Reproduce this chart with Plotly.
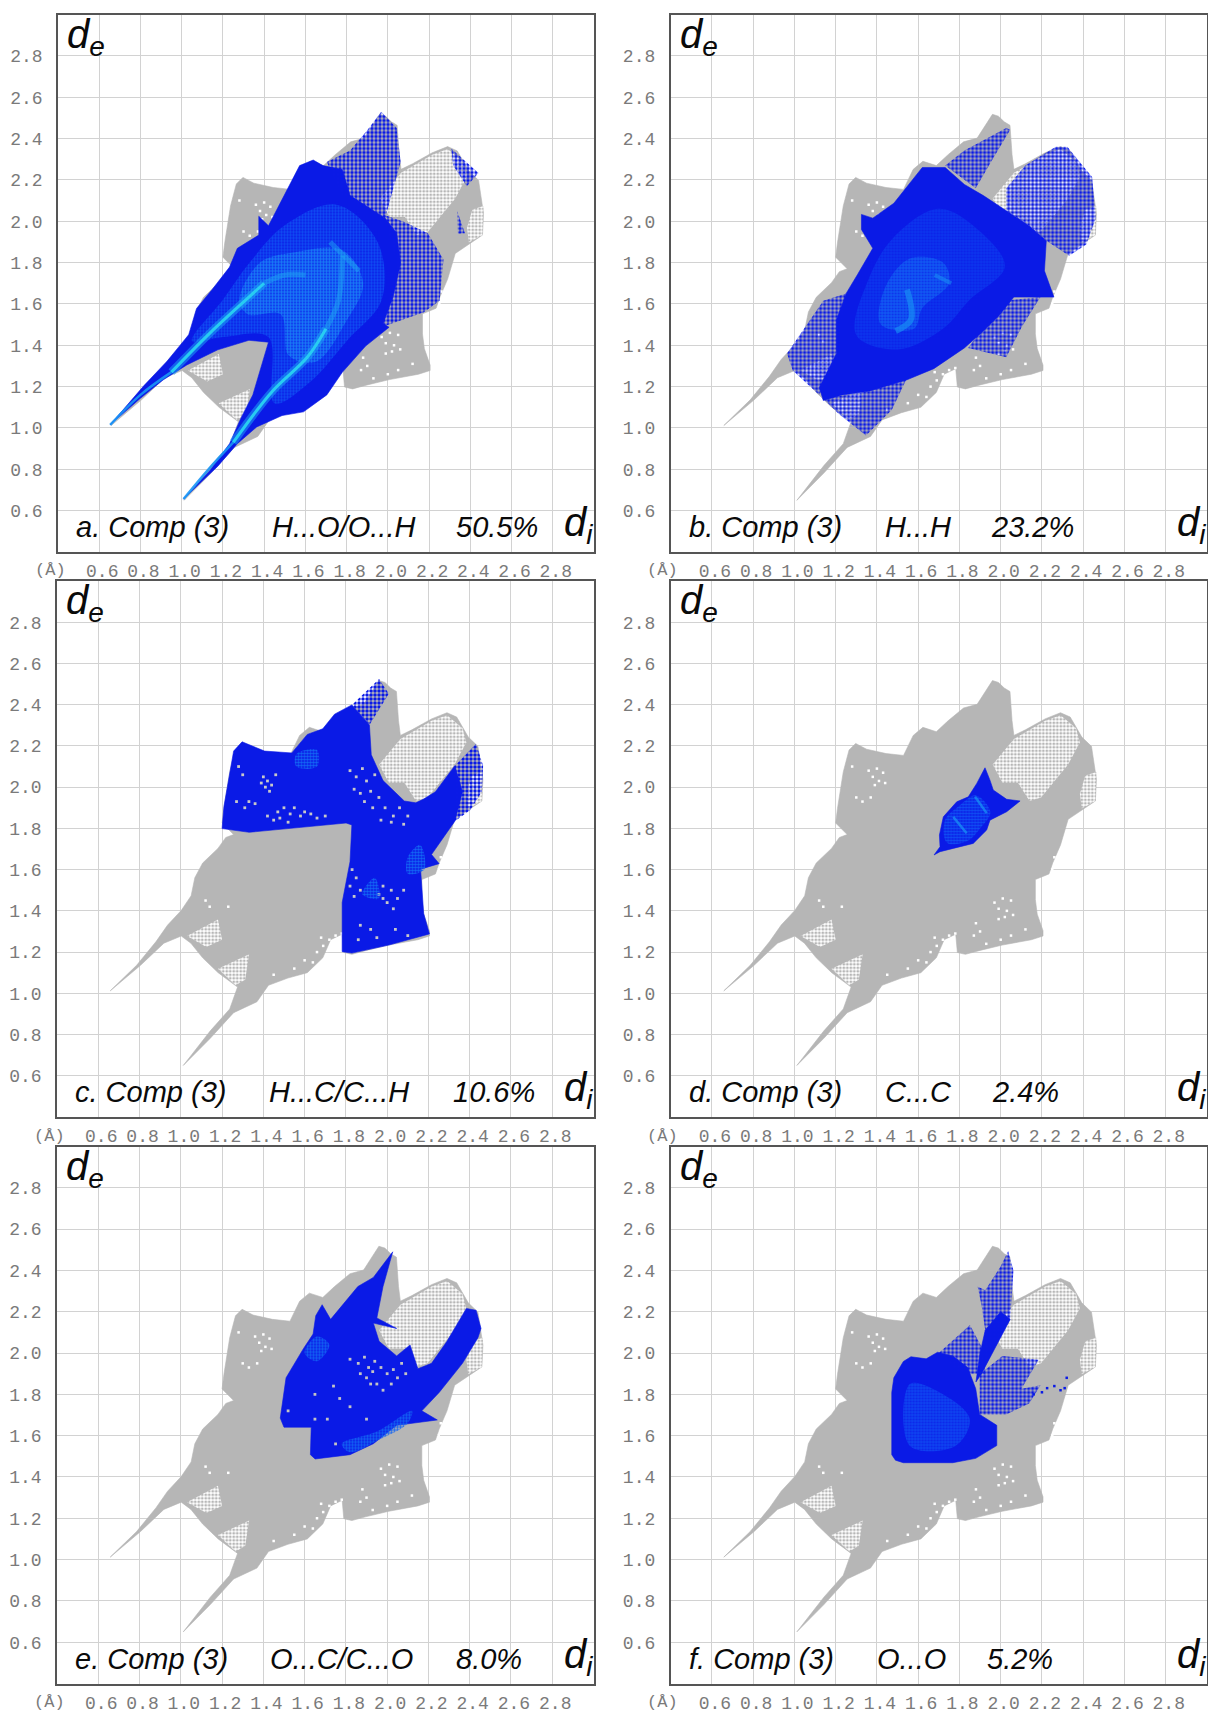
import plotly.graph_objects as go

# ---- axis values ----
TICKS = [0.6, 0.8, 1.0, 1.2, 1.4, 1.6, 1.8, 2.0, 2.2, 2.4, 2.6, 2.8]
TICK_LABELS = ["0.6", "0.8", "1.0", "1.2", "1.4", "1.6", "1.8", "2.0", "2.2", "2.4", "2.6", "2.8"]
AXIS_RANGE = [0.4, 3.0]

# ---- all-contacts grey outline (di, de) ----
GREY = [(0.658,1.012),(0.786,1.136),(0.88,1.251),(0.936,1.331),(1.002,1.402),(1.05,1.473),(1.068,1.561),(1.106,1.632),
        (1.18,1.703),(1.218,1.756),(1.256,1.77),(1.2,1.826),(1.209,1.897),(1.237,2.074),(1.265,2.18),(1.297,2.212),
        (1.35,2.184),(1.444,2.163),(1.529,2.154),(1.576,2.251),(1.623,2.29),(1.688,2.269),(1.745,2.322),(1.82,2.384),
        (1.886,2.402),(1.96,2.517),(1.989,2.508),(2.017,2.481),(2.045,2.464),(2.055,2.322),(2.064,2.251),(2.12,2.278),
        (2.215,2.331),(2.29,2.361),(2.337,2.34),(2.393,2.243),(2.44,2.198),(2.464,2.039),(2.459,1.933),(2.384,1.88),
        (2.327,1.844),(2.29,1.72),(2.252,1.632),(2.234,1.579),(2.168,1.552),(2.168,1.455),(2.177,1.384),(2.205,1.304),
        (2.205,1.278),(2.149,1.26),(2.008,1.234),(1.895,1.207),(1.829,1.189),(1.79,1.198),(1.782,1.287),(1.726,1.26),
        (1.688,1.172),(1.613,1.10),(1.519,1.074),(1.425,1.039),(1.369,0.959),(1.256,0.906),(1.143,0.782),(1.012,0.65),
        (1.143,0.818),(1.237,0.924),(1.275,1.03),(1.181,1.10),(1.106,1.172),(1.049,1.243),(1.002,1.278),(0.918,1.243),(0.805,1.136)]
GREY_SPECK_1 = [(1.961,2.11),(2.064,2.234),(2.215,2.322),(2.29,2.349),(2.365,2.287),(2.384,2.216),(2.327,2.11),(2.196,1.95),(2.14,1.933),(2.083,2.021),(2.008,2.021)]
GREY_SPECK_2 = [(2.41,2.057),(2.464,2.074),(2.459,1.933),(2.393,1.897),(2.384,1.968)]
GREY_SPECK_3 = [(1.03,1.278),(1.18,1.358),(1.2,1.26),(1.124,1.225)]
GREY_SPECK_4 = [(1.18,1.119),(1.331,1.189),(1.312,1.066),(1.265,1.039)]
GREY_SPECKS = [GREY_SPECK_1, GREY_SPECK_2, GREY_SPECK_3, GREY_SPECK_4]
WHITE_DOTS = [(1.30,1.95),(1.33,1.93),(1.37,1.95),(1.28,2.1),(1.23,1.42),(1.12,1.45),(1.14,1.42),(1.88,1.34),(1.9,1.3),(1.87,1.28),
              (2.12,1.31),(2.0,1.26),(2.05,1.28),(1.93,1.24),(1.6,1.16),(1.55,1.12),(1.45,1.09),(2.26,1.66),(2.25,1.6),
              (1.36,2.08),(1.38,2.05),(1.40,2.09),(1.41,2.03),(1.43,2.07),(1.39,2.01),(1.44,2.02),(1.97,1.44),(1.99,1.41),
              (2.01,1.46),(2.03,1.40),(2.05,1.45),(2.02,1.37),(1.99,1.36),(2.06,1.38),(1.66,1.20),(1.69,1.23),(1.72,1.26),
              (1.75,1.28),(1.68,1.27),(1.73,1.22),(1.64,1.15),(1.78,1.29),(1.71,1.19)]

# ---- a. H...O/O...H ----
A_DENSE = [(0.653,1.015),(0.817,1.205),(0.93,1.324),(1.034,1.451),(1.072,1.578),(1.147,1.669),(1.232,1.778),(1.27,1.869),(1.374,1.933),
           (1.374,2.024),(1.421,1.978),(1.496,2.124),(1.572,2.269),(1.638,2.296),(1.685,2.269),(1.779,2.25),(1.817,2.124),(1.987,2.015),
           (2.043,1.942),(2.062,1.796),(2.025,1.633),(1.977,1.505),(2.006,1.487),(1.892,1.396),(1.779,1.269),(1.704,1.16),(1.591,1.078),
           (1.487,1.06),(1.364,1.005),(1.27,0.924),(1.175,0.815),(1.009,0.656),(1.138,0.796),(1.232,0.924),(1.289,1.051),(1.345,1.16),
           (1.421,1.415),(1.326,1.424),(1.175,1.378),(1.025,1.305),(0.911,1.233),(0.798,1.142)]
A_SPECK_1 = [(1.704,2.287),(1.817,2.342),(1.902,2.442),(1.968,2.529),(2.043,2.451),(2.062,2.287),(1.987,2.015),(1.779,2.124)]
A_SPECK_2 = [(1.977,2.033),(2.081,1.996),(2.194,1.942),(2.27,1.815),(2.251,1.615),(2.175,1.56),(1.968,1.487),(2.043,1.796)]
A_SPECK_3 = [(2.308,2.351),(2.44,2.233),(2.383,2.169),(2.317,2.269)]
A_SPECK_4 = [(2.336,2.051),(2.374,1.942),(2.34,1.94)]
A_MID = [(1.05,1.42),(1.20,1.62),(1.33,1.80),(1.50,1.98),(1.75,2.08),(1.95,1.90),(1.97,1.62),(1.80,1.42),(1.62,1.22),(1.45,1.12),(1.42,1.44),(1.20,1.44)]
A_LIGHT = [(1.28,1.62),(1.38,1.80),(1.55,1.85),(1.78,1.86),(1.88,1.70),(1.80,1.52),(1.65,1.32),(1.52,1.35),(1.48,1.55),(1.32,1.55)]
A_TIP_1 = [(0.653,1.015),(0.80,1.16),(0.95,1.27)]
A_TIP_2 = [(1.009,0.656),(1.13,0.80),(1.25,0.93)]
A_LINE_1 = [(0.95,1.27),(1.138,1.46),(1.326,1.633),(1.40,1.70)]
A_LINE_2 = [(1.25,0.93),(1.44,1.178),(1.609,1.342),(1.70,1.48)]
A_GLOW_1 = [(1.70,1.48),(1.76,1.615),(1.779,1.833)]
A_GLOW_2 = [(1.40,1.70),(1.50,1.74),(1.60,1.74)]
A_GLOW_3 = [(1.72,1.90),(1.78,1.84),(1.86,1.76)]

# ---- b. H...H ----
B_DENSE = [(1.325,2.033),(1.38,2.015),(1.482,2.087),(1.62,2.26),(1.731,2.26),(1.824,2.178),(1.916,2.124),(2.027,2.051),(2.138,1.978),
           (2.221,1.905),(2.212,1.76),(2.258,1.633),(2.193,1.633),(2.064,1.633),(1.99,1.542),(1.916,1.469),(1.824,1.387),(1.676,1.287),
           (1.546,1.233),(1.362,1.178),(1.232,1.16),(1.14,1.133),(1.121,1.196),(1.204,1.36),(1.204,1.524),(1.251,1.651),(1.306,1.742),
           (1.38,1.869),(1.325,1.96)]
B_SPECK_1 = [(0.964,1.36),(1.14,1.615),(1.251,1.651),(1.204,1.36),(1.121,1.16),(0.992,1.278)]
B_SPECK_2 = [(1.14,1.142),(1.362,1.178),(1.546,1.242),(1.472,1.087),(1.347,0.964),(1.214,1.069)]
B_SPECK_3 = [(2.008,1.615),(2.193,1.633),(2.101,1.487),(2.027,1.342),(1.842,1.387),(1.916,1.487)]
B_SPECK_4 = [(1.731,2.27),(1.824,2.342),(2.027,2.451),(2.046,2.442),(1.953,2.287),(1.879,2.16)]
B_SPECK_5 = [(2.027,2.16),(2.119,2.269),(2.267,2.36),(2.323,2.36),(2.397,2.269),(2.443,2.215),(2.461,2.015),(2.415,1.887),(2.332,1.833),(2.221,1.905),(2.138,1.978),(2.027,2.051)]
B_MID = [(1.30,1.45),(1.36,1.72),(1.48,1.92),(1.70,2.06),(1.90,1.95),(2.02,1.78),(1.85,1.62),(1.72,1.48),(1.50,1.38)]
B_LIGHT = [(1.42,1.50),(1.44,1.68),(1.56,1.82),(1.72,1.80),(1.75,1.70),(1.62,1.58),(1.58,1.48)]
B_LINE_1 = [(1.546,1.669),(1.565,1.524),(1.491,1.469)]
B_LINE_2 = [(1.68,1.74),(1.76,1.70)]

# ---- c. H...C/C...H ----
C_DENSE = [(1.2,1.799),(1.331,1.781),(1.801,1.826),(1.829,1.817),(1.82,1.638),(1.782,1.44),(1.782,1.202),(1.829,1.195),(2.008,1.234),
           (2.205,1.288),(2.177,1.387),(2.162,1.602),(2.252,1.629),(2.215,1.673),(2.328,1.835),(2.365,1.978),(2.328,2.104),(2.234,1.978),
           (2.177,1.942),(2.139,1.924),(2.083,1.933),(1.98,2.032),(1.923,2.157),(1.914,2.301),(1.829,2.399),(1.745,2.354),(1.688,2.283),
           (1.613,2.256),(1.538,2.166),(1.406,2.175),(1.297,2.22),(1.256,2.175),(1.209,1.906)]
C_SPECK_1 = [(1.829,2.399),(1.961,2.525),(2.008,2.453),(1.914,2.301)]
C_SPECK_2 = [(2.328,2.104),(2.431,2.211),(2.465,2.104),(2.459,1.978),(2.403,1.889),(2.328,1.835)]
C_HOLES = [(1.82,2.08),(1.85,2.05),(1.88,2.09),(1.90,2.03),(1.84,1.99),(1.87,1.97),(1.92,1.98),(1.89,1.93),(1.94,2.06),(1.96,1.95),
           (1.99,1.90),(2.03,1.86),(2.06,1.90),(2.02,1.83),(1.97,1.84),(2.08,1.82),(2.10,1.86),(1.93,1.90),
           (1.42,1.86),(1.45,1.84),(1.47,1.88),(1.50,1.90),(1.53,1.87),(1.55,1.90),(1.58,1.86),(1.60,1.88),(1.63,1.87),(1.66,1.85),
           (1.70,1.86),(1.48,1.85),(1.52,1.83),(1.40,2.05),(1.42,2.03),(1.41,2.00),(1.44,2.01),(1.46,2.06),(1.39,2.02),(1.43,1.98),
           (1.28,2.10),(1.30,2.06),(1.27,1.93),(1.31,1.90),(1.33,1.93),(1.36,1.92),(1.83,1.60),(1.85,1.56),(1.82,1.52),(1.87,1.50),
           (1.84,1.47),(1.96,1.48),(1.98,1.52),(2.02,1.50),(2.05,1.46),(2.0,1.44),(2.03,1.41),(1.98,1.46),(2.08,1.5),(1.87,1.33),
           (1.92,1.31),(1.95,1.27),(2.04,1.31),(2.1,1.28),(1.86,1.26)]
C_LIGHT_1 = [(1.56,2.16),(1.66,2.18),(1.66,2.10),(1.56,2.10)]
C_LIGHT_2 = [(2.10,1.66),(2.16,1.72),(2.18,1.60),(2.10,1.58)]
C_LIGHT_3 = [(1.88,1.48),(1.94,1.56),(1.96,1.46)]

# ---- d. C...C ----
D_DENSE = [(1.677,1.671),(1.706,1.711),(1.703,1.768),(1.722,1.856),(1.787,1.929),(1.843,1.953),(1.884,2.018),(1.924,2.094),(1.948,2.034),
           (1.964,1.986),(2.029,1.941),(2.094,1.933),(2.029,1.881),(1.948,1.84),(1.932,1.792),(1.867,1.727),(1.77,1.703),(1.706,1.687)]
D_MID = [(1.74,1.73),(1.73,1.84),(1.80,1.91),(1.88,1.96),(1.95,1.88),(1.90,1.80),(1.84,1.74)]
D_LINE_1 = [(1.876,1.953),(1.932,1.874)]
D_LINE_2 = [(1.77,1.856),(1.835,1.776)]

# ---- e. O...C/C...O ----
E_DENSE = [(1.482,1.685),(1.5,1.641),(1.632,1.641),(1.628,1.508),(1.651,1.487),(1.82,1.508),(1.933,1.561),(2.046,1.65),(2.243,1.676),
           (2.168,1.72),(2.252,1.809),(2.365,1.95),(2.44,2.074),(2.455,2.119),(2.431,2.207),(2.384,2.216),(2.29,2.057),(2.215,1.95),
           (2.149,1.924),(2.111,2.039),(2.046,1.986),(1.961,2.057),(1.933,2.145),(2.046,2.119),(1.95,2.17),(1.98,2.322),(2.027,2.49),
           (1.933,2.366),(1.858,2.322),(1.726,2.163),(1.685,2.234),(1.654,2.181),(1.641,2.092),(1.594,2.021),(1.51,1.88)]
E_HOLES = [(1.82,1.97),(1.86,1.95),(1.89,1.98),(1.91,1.93),(1.87,1.90),(1.90,1.88),(1.93,1.91),(1.95,1.85),(1.92,1.85),(1.94,1.96),
           (1.97,1.93),(2.0,1.90),(2.03,1.92),(2.05,1.88),(2.02,1.85),(1.98,1.82),(2.07,1.95),(2.09,1.90),(1.74,1.84),(1.65,1.80),
           (1.52,1.72),(1.71,1.68),(1.77,1.78),(1.65,1.68),(1.90,1.68),(1.82,1.74),(1.75,1.56)]
E_MID_1 = [(1.78,1.56),(1.95,1.62),(2.12,1.72),(2.10,1.66),(1.96,1.58),(1.82,1.52)]
E_MID_2 = [(1.60,2.00),(1.66,2.08),(1.72,2.04),(1.66,1.96)]

# ---- f. O...O ----
F_DENSE = [(1.472,1.508),(1.49,1.481),(1.528,1.469),(1.768,1.469),(1.879,1.49),(1.981,1.552),(1.981,1.65),(1.898,1.703),(1.879,1.827),
           (1.84,1.93),(1.768,1.986),(1.694,2.004),(1.639,1.972),(1.565,1.982),(1.528,1.959),(1.482,1.88),(1.472,1.809)]
F_SPECK_1 = [(1.888,2.322),(1.925,2.304),(2.0,2.42),(2.036,2.494),(2.062,2.40),(2.046,2.163),(1.953,1.99),(1.907,1.90),(1.907,1.97),(1.925,2.11),(1.907,2.233)]
F_SPECK_2 = [(1.70,2.0),(1.851,2.136),(1.907,2.03),(1.925,1.90),(1.80,1.90)]
F_SPECK_3 = [(1.898,1.897),(2.008,1.986),(2.184,1.968),(2.101,1.827),(2.193,1.844),(2.138,1.756),(2.027,1.703),(1.898,1.703)]
F_CORE = [(1.925,2.11),(2.0,2.2),(2.046,2.163),(1.953,1.99),(1.907,1.90),(1.88,1.86),(1.90,2.0)]
F_MID = [(1.56,1.55),(1.56,1.85),(1.72,1.80),(1.85,1.68),(1.78,1.55)]
F_DOTS = [(2.225,1.83),(2.26,1.84),(2.31,1.83),(2.32,1.88),(2.29,1.82),(2.20,1.81),(2.16,1.80)]

PANEL_TITLES = ["a. Comp (3)", "b. Comp (3)", "c. Comp (3)", "d. Comp (3)", "e. Comp (3)", "f. Comp (3)"]
PANEL_PAIRS = ["H...O/O...H", "H...H", "H...C/C...H", "C...C", "O...C/C...O", "O...O"]
PANEL_PCTS = ["50.5%", "23.2%", "10.6%", "2.4%", "8.0%", "5.2%"]

# ---- style / layout ----
W, H = 1208, 1713
BOXES = [(58, 594, 14.5, 552), (670.6, 1207, 14.5, 552),
         (57, 593.5, 581, 1117), (670.6, 1207, 581, 1117),
         (57, 593.5, 1146.5, 1683.5), (670.6, 1207, 1146.5, 1683.5)]
TITLE_X = [74, 687, 73, 687, 73, 687]
PAIR_X = [270, 883, 267, 883, 268, 875]
PCT_X = [454, 989, 451, 990, 454, 985]
C_GREY, C_BLUE, C_MID, C_LIGHT, C_CYAN = "#b6b6b6", "#0a1ae6", "#1050f4", "#1a80f6", "#28ccf2"
TXT = "#0a0a0a"; TICKC = "#7a7a7a"

fig = go.Figure()

def poly(n, pts, color, speck=None):
    kw = dict(fillcolor=color)
    shape = "linear"
    if speck == "grey":
        kw = dict(fillcolor="rgba(0,0,0,0)", fillpattern=dict(shape=".", size=3.5, solidity=0.5, fgcolor=C_GREY, bgcolor="#ffffff", fillmode="replace"))
    elif speck == "blue":
        kw = dict(fillcolor="rgba(0,0,0,0)", fillpattern=dict(shape=".", size=4, solidity=0.6, fgcolor=C_BLUE, bgcolor="rgba(0,0,0,0)", fillmode="replace"))
    elif speck == "grain":
        shape = "spline"
        kw = dict(fillcolor="rgba(0,0,0,0)", fillpattern=dict(shape=".", size=3, solidity=0.55, fgcolor=color, bgcolor="rgba(0,0,0,0)", fillmode="replace"))
    fig.add_trace(go.Scatter(x=[p[0] for p in pts] + [pts[0][0]], y=[p[1] for p in pts] + [pts[0][1]],
                             mode="lines", fill="toself", line=dict(width=0.6 if speck is None else 0, color=color, shape=shape),
                             xaxis=f"x{n}", yaxis=f"y{n}", hoverinfo="skip", showlegend=False, **kw))

def line(n, pts, color, width):
    fig.add_trace(go.Scatter(x=[p[0] for p in pts], y=[p[1] for p in pts], mode="lines",
                             line=dict(color=color, width=width, shape="spline"),
                             xaxis=f"x{n}", yaxis=f"y{n}", hoverinfo="skip", showlegend=False))

def dots(n, pts, color, size):
    fig.add_trace(go.Scatter(x=[p[0] for p in pts], y=[p[1] for p in pts], mode="markers",
                             marker=dict(color=color, size=size, symbol="square"),
                             xaxis=f"x{n}", yaxis=f"y{n}", hoverinfo="skip", showlegend=False))

for n in range(1, 7):
    poly(n, GREY, C_GREY)
    for s in GREY_SPECKS:
        poly(n, s, C_GREY, "grey")
    dots(n, WHITE_DOTS, "#ffffff", 2.5)

# a
poly(1, A_DENSE, C_BLUE)
for s in (A_SPECK_1, A_SPECK_2, A_SPECK_3, A_SPECK_4):
    poly(1, s, C_BLUE, "blue")
poly(1, A_MID, C_MID, "grain"); poly(1, A_LIGHT, C_LIGHT, "grain")
for s in (A_GLOW_1, A_GLOW_2, A_GLOW_3):
    line(1, s, "rgba(30,170,245,0.45)", 5)
for s in (A_TIP_1, A_TIP_2):
    line(1, s, "rgba(25,150,245,0.9)", 2.5)
for s in (A_LINE_1, A_LINE_2):
    line(1, s, "rgba(30,170,245,0.5)", 8); line(1, s, C_CYAN, 3)
# b
poly(2, B_DENSE, C_BLUE)
for s in (B_SPECK_1, B_SPECK_2, B_SPECK_3, B_SPECK_4, B_SPECK_5):
    poly(2, s, C_BLUE, "blue")
poly(2, B_MID, "#0c3cf0", "grain"); poly(2, B_LIGHT, "#1264f4", "grain")
line(2, B_LINE_1, "rgba(25,150,245,0.6)", 6); line(2, B_LINE_2, "rgba(25,150,245,0.5)", 4)
# c
poly(3, C_DENSE, C_BLUE)
for s in (C_SPECK_1, C_SPECK_2):
    poly(3, s, C_BLUE, "blue")
dots(3, C_HOLES, "#c8c8c8", 2.8)
for s in (C_LIGHT_1, C_LIGHT_2, C_LIGHT_3):
    poly(3, s, "#1264f4", "grain")
# d
poly(4, D_DENSE, C_BLUE); poly(4, D_MID, "#1050f4", "grain")
line(4, D_LINE_1, "rgba(25,150,245,0.7)", 2.5); line(4, D_LINE_2, "rgba(25,150,245,0.7)", 2.5)
# e
poly(5, E_DENSE, C_BLUE)
dots(5, E_HOLES, "#c4c4c4", 2.8)
poly(5, E_MID_1, "#1264f4", "grain"); poly(5, E_MID_2, "#1264f4", "grain")
# f
poly(6, F_DENSE, C_BLUE); poly(6, F_MID, "#1050f4", "grain"); poly(6, F_CORE, C_BLUE)
for s in (F_SPECK_1, F_SPECK_2, F_SPECK_3):
    poly(6, s, C_BLUE, "blue")
dots(6, F_DOTS, C_BLUE, 2.5)

layout = dict(width=W, height=H, margin=dict(l=0, r=0, t=0, b=0), autosize=False,
              paper_bgcolor="white", plot_bgcolor="white", showlegend=False)
ann = []

def note(x, y, text, size, color=TXT, font="Liberation Sans", anchor="left"):
    ann.append(dict(xref="paper", yref="paper", x=x / W, y=1 - y / H, text=text, showarrow=False, xanchor=anchor,
                    yanchor="middle", align="left", font=dict(family=font, size=size, color=color)))

for i, (l, r, t, b) in enumerate(BOXES):
    s = "" if i == 0 else str(i + 1)
    common = dict(range=AXIS_RANGE, tickmode="array", tickvals=TICKS, ticktext=TICK_LABELS, showgrid=True,
                  gridcolor="#d2d2d2", gridwidth=1, zeroline=False, showline=True, mirror=True, linecolor="#555555",
                  linewidth=1.5, ticks="", tickfont=dict(family="Liberation Mono", size=18, color=TICKC), tickangle=0)
    layout["xaxis" + s] = dict(common, domain=[l / W, r / W], anchor="y" + s, ticklabelstandoff=2, ticklabelshift=3)
    layout["yaxis" + s] = dict(common, domain=[1 - b / H, 1 - t / H], anchor="x" + s, ticklabelstandoff=10)
    note(l + 7, t + 22, "<i>d<sub>e</sub></i>", 40)
    note(r - 32, b - 27, "<i>d<sub>i</sub></i>", 40)
    note(TITLE_X[i], b - 25, f"<i>{PANEL_TITLES[i]}</i>", 29)
    note(PAIR_X[i], b - 25, f"<i>{PANEL_PAIRS[i]}</i>", 29)
    note(PCT_X[i], b - 25, f"<i>{PANEL_PCTS[i]}</i>", 29)
    note(l - 8, b + 19, "(Å)", 17, TICKC, "Liberation Mono", "center")

layout["annotations"] = ann
fig.update_layout(**layout)
fig.write_html("out.html", config=dict(displayModeBar=False), post_script="document.body.style.margin='0';")
